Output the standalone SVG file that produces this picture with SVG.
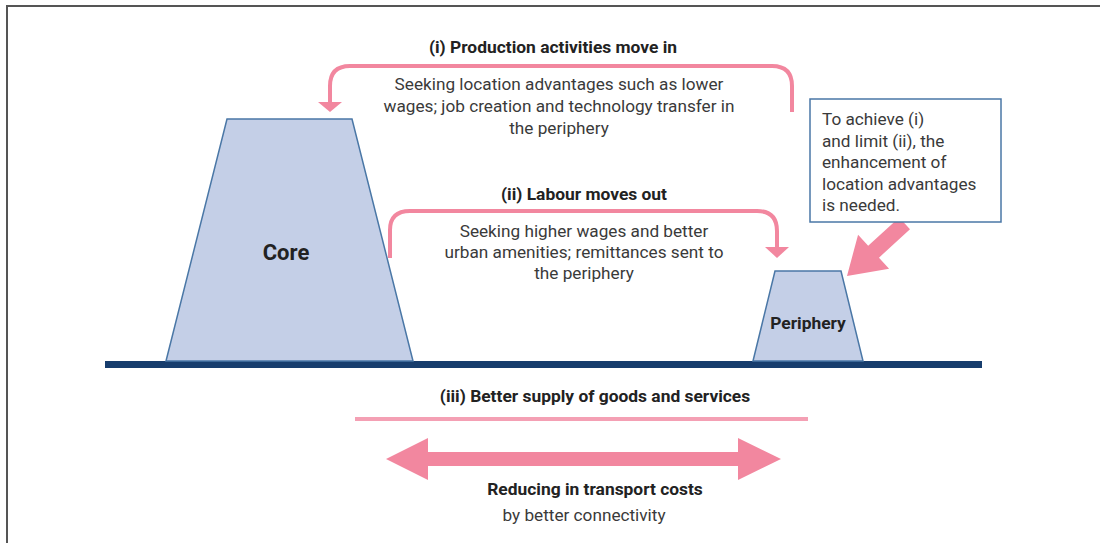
<svg xmlns="http://www.w3.org/2000/svg" width="1100" height="543" viewBox="0 0 1100 543">
<style>
.t{font-family:Roboto,"Liberation Sans",sans-serif;fill:#3a3a3a;font-size:17.2px}
.b{font-family:Roboto,"Liberation Sans",sans-serif;fill:#222;font-weight:bold;font-size:17.4px}
.trap{fill:#c4cfe7;stroke:#4a77a6;stroke-width:1.5}
.arc{fill:none;stroke:#f2879f;stroke-width:4}
.pk{fill:#f2879f}
</style>
<rect width="1100" height="543" fill="#fff"/>
<path d="M7,543 V6 H1100" fill="none" stroke="#555" stroke-width="2"/>
<g id="connectors">
<path class="arc" d="M792,112 V86 Q792,66 772,66 H350 Q330,66 330,86 V102"/>
<polygon class="pk" points="318,102 342,102 330,112"/>
<path class="arc" d="M390,258 V230 Q390,211 410,211 H757 Q777,211 777,231 V247"/>
<polygon class="pk" points="765,247 789,247 777,258"/>
<polygon class="pk" transform="translate(847,276) rotate(137.6)" points="0,0 -36,-23 -36,-8 -78,-8 -78,8 -36,8 -36,23"/>
<rect x="355" y="417" width="453" height="4" fill="#f4a0b4"/>
<polygon class="pk" points="386,459 428,438 428,452 738,452 738,438 781,459 738,480 738,466 428,466 428,480"/>
</g>
<rect x="105" y="361" width="877" height="7" fill="#173d6d"/>
<g id="core">
<polygon class="trap" points="227,119 352,119 413,361 166,361"/>
<text class="b" x="286" y="260" text-anchor="middle" style="font-size:22px">Core</text>
</g>
<g id="periphery">
<polygon class="trap" points="775,271 841,271 863,361 753,361"/>
<text class="b" x="808" y="329" text-anchor="middle">Periphery</text>
</g>
<g id="note">
<rect x="810" y="99" width="191" height="123" fill="#fff" stroke="#4a77a6" stroke-width="1.5"/>
<text class="t" x="822" y="125">To achieve (i)</text>
<text class="t" x="822" y="147">and limit (ii), the</text>
<text class="t" x="822" y="168">enhancement of</text>
<text class="t" x="822" y="190">location advantages</text>
<text class="t" x="822" y="211">is needed.</text>
</g>
<g id="label-i">
<text class="b" x="553" y="53" text-anchor="middle">(i) Production activities move in</text>
<text class="t" x="559" y="90" text-anchor="middle">Seeking location advantages such as lower</text>
<text class="t" x="559" y="112" text-anchor="middle">wages; job creation and technology transfer in</text>
<text class="t" x="559" y="134" text-anchor="middle">the periphery</text>
</g>
<g id="label-ii">
<text class="b" x="584" y="200" text-anchor="middle">(ii) Labour moves out</text>
<text class="t" x="584" y="237" text-anchor="middle">Seeking higher wages and better</text>
<text class="t" x="584" y="258" text-anchor="middle">urban amenities; remittances sent to</text>
<text class="t" x="584" y="279" text-anchor="middle">the periphery</text>
</g>
<g id="label-iii">
<text class="b" x="595" y="402" text-anchor="middle">(iii) Better supply of goods and services</text>
</g>
<g id="label-transport">
<text class="b" x="595" y="495" text-anchor="middle">Reducing in transport costs</text>
<text class="t" x="584" y="521" text-anchor="middle">by better connectivity</text>
</g>
</svg>
